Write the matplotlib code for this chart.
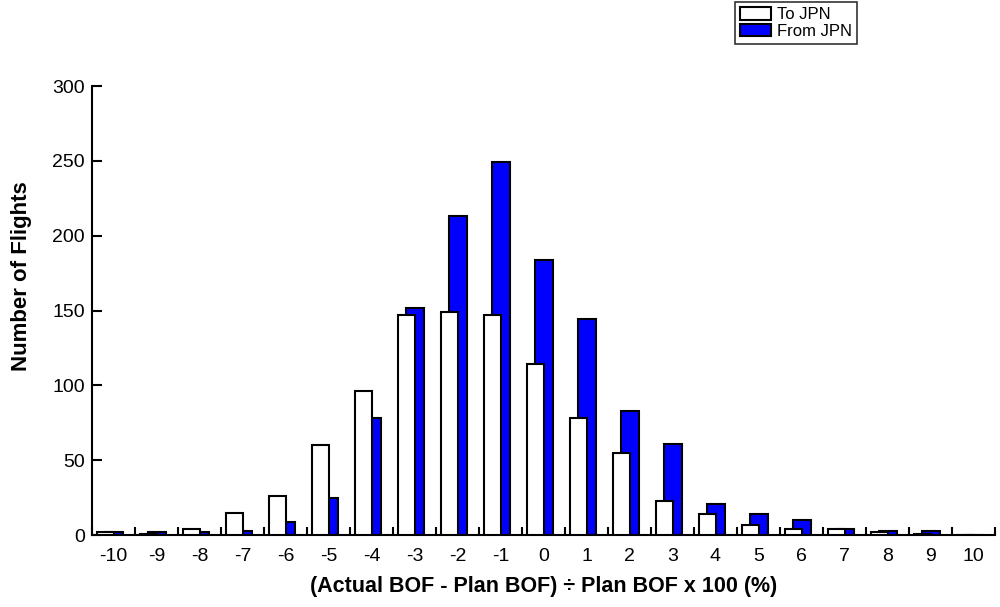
"""
Histogram of BOF deviation, to / from JPN
"""

import numpy as np
import matplotlib
matplotlib.use("Agg")
import matplotlib.pyplot as plt
from matplotlib.ticker import FixedLocator

# Data
bins = [-10, -9, -8, -7, -6, -5, -4, -3, -2, -1, 0, 1, 2, 3, 4, 5, 6, 7, 8, 9, 10]
to_jpn = [2, 1, 4, 15, 26, 60, 96, 147, 149, 147, 114, 78, 55, 23, 14, 7, 4, 4, 2, 1, 0]
from_jpn = [2, 2, 2, 3, 9, 25, 78, 152, 213, 249, 184, 144, 83, 61, 21, 14, 10, 4, 3, 3, 0]
y_ticks = [0, 50, 100, 150, 200, 250, 300]

plt.rcParams['font.family'] = ['Liberation Sans', 'DejaVu Sans']

fig = plt.figure(figsize=(10, 6.07), dpi=100)
ax = fig.add_axes([0.092, 0.1186, 0.903, 0.7397])

x = np.array(bins, dtype=float)
w = 0.40
# blue first so the white bars sit on top
ax.bar(x + 0.01, from_jpn, width=w, color="#0000ff", edgecolor="black", linewidth=1.5,
       label="From JPN", zorder=2)
ax.bar(x - 0.18, to_jpn, width=w, color="white", edgecolor="black", linewidth=1.5,
       label="To JPN", zorder=3)

ax.set_xlim(-10.5, 10.5)
ax.set_ylim(0, 300)

ax.spines["top"].set_visible(False)
ax.spines["right"].set_visible(False)
ax.spines["left"].set_linewidth(1.5)
ax.spines["bottom"].set_linewidth(1.5)

ax.set_xticks(x)
ax.set_xticklabels([str(b) for b in bins])
ax.xaxis.set_minor_locator(FixedLocator(np.arange(-10.5, 11, 1.0)))
ax.tick_params(axis="x", which="major", length=0, labelsize=14, pad=9)
ax.tick_params(axis="x", which="minor", direction="in", length=6, width=1.5)
ax.set_yticks(y_ticks)
ax.tick_params(axis="y", direction="in", length=7, width=1.5, labelsize=14, pad=5)

ax.set_xlabel("(Actual BOF - Plan BOF) \u00f7 Plan BOF x 100 (%)", fontsize=15.5,
              fontweight="bold", labelpad=8)
ax.set_ylabel("Number of Flights", fontsize=16, fontweight="bold")
ax.yaxis.set_label_coords(-0.066, 0.577)

handles, labels = ax.get_legend_handles_labels()
leg = fig.legend(handles[::-1], labels[::-1], loc="upper right",
                 bbox_to_anchor=(0.857, 0.997), fontsize=12, frameon=True,
                 fancybox=False, edgecolor="black", borderpad=0.3,
                 labelspacing=0.1, handlelength=1.9, handleheight=0.8,
                 handletextpad=0.35, borderaxespad=0.0)
leg.get_frame().set_linewidth(1.2)

fig.savefig("out.png", dpi=100)
